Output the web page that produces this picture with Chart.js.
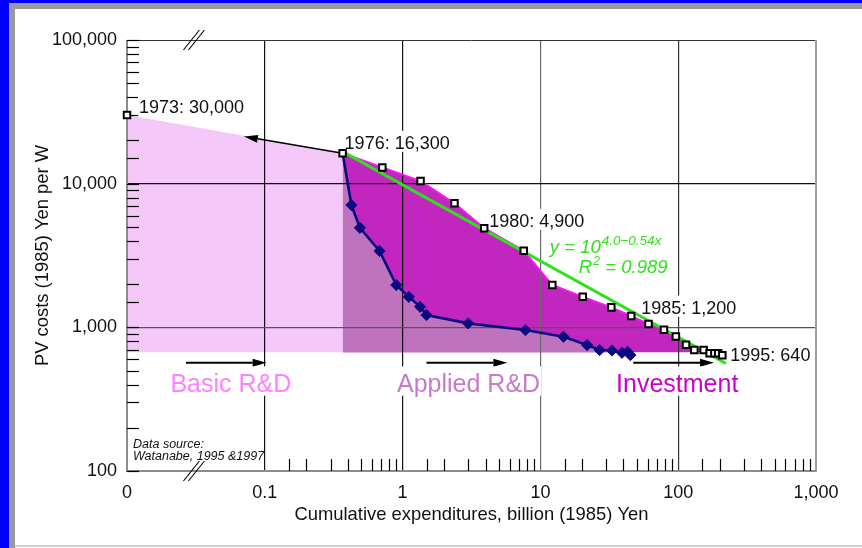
<!DOCTYPE html>
<html>
<head>
<meta charset="utf-8">
<title>PV costs vs cumulative expenditures</title>
<script src="https://cdn.jsdelivr.net/npm/chart.js@4.4.0/dist/chart.umd.min.js"></script>
<style>
  html, body { margin: 0; padding: 0; background: #fff; }
  #frame { position: relative; width: 862px; height: 548px; overflow: hidden; background: #fff; }
  .band { position: absolute; }
  #blueL { left: 0; top: 0; width: 9px; height: 548px; background: #0000ff; }
  #blueT { left: 0; top: 0; width: 862px; height: 3px; background: #0000ff; }
  #grayL { left: 9px; top: 3px; width: 6px; height: 545px; background: #9a9a9a; }
  #grayT { left: 9px; top: 3px; width: 853px; height: 6px; background: #9a9a9a; }
  #grayB { left: 15px; top: 545px; width: 847px; height: 2px; background: #cfcfcf; }
  canvas { position: absolute; left: 0; top: 0; }
</style>
</head>
<body>
<div id="frame">
  <div class="band" id="blueL"></div>
  <div class="band" id="blueT"></div>
  <div class="band" id="grayL"></div>
  <div class="band" id="grayT"></div>
  <div class="band" id="grayB"></div>
  <canvas id="chart" width="862" height="548"></canvas>
</div>
<script>
// ---- data -------------------------------------------------------------
// Total cumulative expenditures (billion 1985 Yen); 0.01 stands for the "0" end of the broken axis
const pvExpend = [0.01, 0.367, 0.713, 1.35, 2.38, 3.91, 7.57, 12.2, 20.3, 32.7, 45.6,
                  60.9, 78.8, 96.2, 114, 131, 153, 169, 183, 195, 209];
// PV module cost (1985 Yen per W)
const pvCost   = [30000, 16300, 12980, 10420, 7300, 4900, 3410, 1970, 1630, 1377, 1200,
                  1054, 962, 865, 757, 695, 695, 659, 659, 659, 640];
// R&D-only cumulative expenditures and the matching cost path
const rdExpend = [0.367, 0.425, 0.49, 0.68, 0.90, 1.11, 1.34, 1.49, 2.99, 7.79,
                  14.7, 21.8, 26.9, 33.1, 39.1, 42.9, 44.9];
const rdCost   = [16300, 7100, 4930, 3400, 1970, 1630, 1390, 1218, 1066, 957,
                  860, 753, 695, 690, 665, 675, 641];
// learning-curve fit y = 10^(4.0 - 0.54x), end points
const fitExpend = [0.367, 222];
const fitCost   = [16700, 560];
// lower edge of the shaded phases
const floorCost = 670;
// labelled years (index into pvExpend / pvCost)
const yearIdx    = [0, 1, 5, 10, 20];
const yearLabels = ['1973: 30,000', '1976: 16,300', '1980: 4,900', '1985: 1,200', '1995: 640'];
// axis tick labels
const xTickValues = [0.01, 0.1, 1, 10, 100, 1000];
const xTickLabels = ['0', '0.1', '1', '10', '100', '1,000'];
const yTickValues = [100, 1000, 10000, 100000];
const yTickLabels = ['100', '1,000', '10,000', '100,000'];
// phase names
const phaseNames = ['Basic R&D', 'Applied R&D', 'Investment'];

// ---- helpers ----------------------------------------------------------
const pts = (xs, ys) => xs.map((v, i) => ({ x: v, y: ys[i] }));
const isDecade = v => Math.abs(Math.log10(v) - Math.round(Math.log10(v))) < 1e-6;
const FONT = '"Liberation Sans", Arial, Helvetica, sans-serif';

// label placement (data anchor + pixel offset)
const yearOffsets = [[12, -2], [2, -4], [5, -1], [10, -2], [8, 6]];
const phasePlace = [
  { x: 0.0567, color: '#ff80ff' },
  { x: 3.01,   color: '#c87ac8' },
  { x: 98.4,   color: '#cc00cc' }
];
const phaseBaseline = 355;          // value on the cost axis
const arrowLevel = 567;             // value on the cost axis
const phaseArrows = [[0.0268, 0.103], [1.49, 5.76], [47.2, 182]];
const backArrow = { from: [0.367, 16300], to: [0.0705, 21300] };
const breakAt = 0.0306;
const eqAnchor = { x: 11.7, y: 3273 };

function arrow(ctx, x1, y1, x2, y2) {
  const ang = Math.atan2(y2 - y1, x2 - x1);
  const len = 14, half = 4;
  const bx = x2 - len * Math.cos(ang), by = y2 - len * Math.sin(ang);
  ctx.beginPath();
  ctx.moveTo(x1, y1);
  ctx.lineTo(bx, by);
  ctx.stroke();
  ctx.beginPath();
  ctx.moveTo(x2, y2);
  ctx.lineTo(bx + half * Math.sin(ang), by - half * Math.cos(ang));
  ctx.lineTo(bx - half * Math.sin(ang), by + half * Math.cos(ang));
  ctx.closePath();
  ctx.fill();
}

function boxedText(ctx, text, left, base, size, color, style) {
  ctx.font = (style || '') + ' ' + size + 'px ' + FONT;
  const w = ctx.measureText(text).width;
  ctx.fillStyle = '#fff';
  ctx.fillRect(left - 1, base - size * 1.02, w + 2, size * 1.17);
  ctx.fillStyle = color;
  ctx.textAlign = 'left';
  ctx.textBaseline = 'alphabetic';
  ctx.fillText(text, left, base);
  return w;
}

// frame, inward ticks, axis breaks, arrows and text
const decor = {
  id: 'decor',
  beforeDatasetsDraw(chart) {
    const { ctx, chartArea: a, scales: { x, y } } = chart;
    ctx.save();

    // frame
    ctx.lineCap = 'butt';
    ctx.strokeStyle = '#333'; ctx.lineWidth = 1;
    ctx.beginPath(); ctx.moveTo(a.left, a.top + 0.5); ctx.lineTo(a.right, a.top + 0.5); ctx.stroke();
    ctx.strokeStyle = '#a0a0a0'; ctx.lineWidth = 2;
    ctx.beginPath(); ctx.moveTo(a.right, a.top); ctx.lineTo(a.right, a.bottom + 1); ctx.stroke();
    ctx.strokeStyle = '#8c8c8c'; ctx.lineWidth = 2;
    ctx.beginPath(); ctx.moveTo(a.left, a.top); ctx.lineTo(a.left, a.bottom); ctx.lineTo(a.right, a.bottom); ctx.stroke();

    // inward ticks on the cost axis
    ctx.strokeStyle = '#000'; ctx.lineWidth = 1.2;
    y.ticks.forEach(t => {
      const py = Math.round(y.getPixelForValue(t.value)) + 0.5;
      ctx.beginPath(); ctx.moveTo(a.left, py); ctx.lineTo(a.left + 12, py); ctx.stroke();
    });
    // upward minor ticks on the expenditure axis (none in the broken stretch)
    x.ticks.forEach(t => {
      if (t.value < 0.1 - 1e-9 || isDecade(t.value)) return;
      const px = Math.round(x.getPixelForValue(t.value)) + 0.5;
      ctx.beginPath(); ctx.moveTo(px, a.bottom); ctx.lineTo(px, a.bottom - 12); ctx.stroke();
    });

    // axis break marks
    const bx = x.getPixelForValue(breakAt);
    ctx.lineWidth = 1.1;
    [a.top, a.bottom].forEach(by => {
      [-2.5, 2.5].forEach(d => {
        ctx.beginPath();
        ctx.moveTo(bx + d - 8, by + 10);
        ctx.lineTo(bx + d + 8, by - 10);
        ctx.stroke();
      });
    });

    // arrows
    ctx.fillStyle = '#000'; ctx.strokeStyle = '#000'; ctx.lineWidth = 1.6;
    arrow(ctx, x.getPixelForValue(backArrow.from[0]), y.getPixelForValue(backArrow.from[1]),
               x.getPixelForValue(backArrow.to[0]), y.getPixelForValue(backArrow.to[1]));
    ctx.lineWidth = 2.2;
    const ay = y.getPixelForValue(arrowLevel);
    phaseArrows.forEach(([x0, x1]) => arrow(ctx, x.getPixelForValue(x0), ay, x.getPixelForValue(x1), ay));

    // phase names
    const pb = y.getPixelForValue(phaseBaseline);
    ctx.font = '25px ' + FONT;
    phaseNames.forEach((name, i) => {
      const w = ctx.measureText(name).width;
      const cx = x.getPixelForValue(phasePlace[i].x);
      boxedText(ctx, name, cx - w / 2, pb, 25, phasePlace[i].color);
      ctx.font = '25px ' + FONT;
    });

    // year labels
    yearIdx.forEach((k, i) => {
      const px = x.getPixelForValue(pvExpend[k]) + yearOffsets[i][0];
      const py = y.getPixelForValue(pvCost[k]) + yearOffsets[i][1];
      boxedText(ctx, yearLabels[i], px, py, 18, '#111');
    });

    // fit equation
    const ex = x.getPixelForValue(eqAnchor.x), ey = y.getPixelForValue(eqAnchor.y);
    const green = '#2fe01a';
    ctx.fillStyle = green; ctx.textAlign = 'left'; ctx.textBaseline = 'alphabetic';
    ctx.font = 'italic 18.5px ' + FONT;
    const s1 = 'y = 10';
    ctx.fillText(s1, ex, ey);
    const w1 = ctx.measureText(s1).width;
    ctx.font = 'italic 13.5px ' + FONT;
    ctx.fillText('4.0\u22120.54x', ex + w1 + 1, ey - 8.5);
    ctx.font = 'italic 18.5px ' + FONT;
    const rx = ex + 29, ry = ey + 20;
    ctx.fillText('R', rx, ry);
    const wr = ctx.measureText('R').width;
    ctx.font = 'italic 12px ' + FONT;
    ctx.fillText('2', rx + wr + 1, ry - 8);
    ctx.font = 'italic 18.5px ' + FONT;
    ctx.fillText(' = 0.989', rx + wr + 8, ry);

    // source note
    ctx.fillStyle = '#111';
    ctx.font = 'italic 12.5px ' + FONT;
    ctx.fillText('Data source:', a.left + 6, a.bottom - 23);
    ctx.fillText('Watanabe, 1995 &1997', a.left + 6, a.bottom - 11);

    ctx.restore();
  }
};

const majorGridColor = v => {
  if (Math.abs(v - 0.1) < 1e-9 || Math.abs(v - 1) < 1e-9) return '#111';
  if (Math.abs(v - 10) < 1e-6) return '#6a6a6a';
  if (Math.abs(v - 100) < 1e-6) return '#333';
  if (Math.abs(v - 1000) < 1e-6) return '#555';
  if (Math.abs(v - 10000) < 1e-6) return '#111';
  return 'rgba(0,0,0,0)';
};

new Chart(document.getElementById('chart'), {
  type: 'line',
  data: {
    datasets: [
      { // yearly cost points
        label: 'PV cost',
        data: pts(pvExpend, pvCost),
        showLine: false,
        pointStyle: 'rect',
        pointRadius: 4.6,
        pointBackgroundColor: '#fff',
        pointBorderColor: '#000',
        pointBorderWidth: 2,
        clip: false
      },
      { // R&D path with the applied-R&D shading below it
        label: 'R&D',
        data: pts(rdExpend, rdCost),
        borderColor: '#0a0a82',
        borderWidth: 2.6,
        pointStyle: 'rectRot',
        pointRadius: c => (c.dataIndex === 0 ? 0 : 5.6),
        pointBackgroundColor: '#0a0a82',
        pointBorderColor: '#0a0a82',
        pointBorderWidth: 1,
        fill: { value: floorCost },
        backgroundColor: '#bf73bf',
        clip: false
      },
      { // learning-curve fit
        label: 'fit',
        data: pts(fitExpend, fitCost),
        borderColor: '#2fe01a',
        borderWidth: 3,
        pointRadius: 0,
        fill: false
      },
      { // investment shading under the cost curve
        label: 'investment',
        data: pts(pvExpend.slice(1), pvCost.slice(1)),
        borderColor: '#f01cf0',
        borderWidth: 2,
        pointRadius: 0,
        fill: { value: floorCost },
        backgroundColor: '#c126be'
      },
      { // basic-R&D shading
        label: 'basic',
        data: pts(pvExpend.slice(0, 2), pvCost.slice(0, 2)),
        borderColor: 'rgba(0,0,0,0)',
        borderWidth: 0,
        pointRadius: 0,
        fill: { value: floorCost },
        backgroundColor: '#f5c8fa'
      }
    ]
  },
  options: {
    responsive: false,
    animation: false,
    devicePixelRatio: 1,
    layout: { padding: { top: 40, right: 46, bottom: 0, left: 0 } },
    plugins: {
      legend: { display: false },
      tooltip: { enabled: false },
      filler: { drawTime: 'beforeDraw' }
    },
    scales: {
      x: {
        type: 'logarithmic',
        min: 0.01,
        max: 1000,
        afterFit: s => { s.height = 77; },
        border: { display: false },
        grid: { drawTicks: false, color: c => (c.tick ? majorGridColor(c.tick.value) : 'rgba(0,0,0,0)'), lineWidth: 1.2 },
        ticks: {
          autoSkip: false, maxRotation: 0, padding: 11,
          color: '#111', font: { family: FONT, size: 18 },
          callback: v => {
            const i = xTickValues.findIndex(t => Math.abs(t - v) / t < 1e-6);
            return i >= 0 ? xTickLabels[i] : '';
          }
        },
        title: {
          display: true, text: 'Cumulative expenditures, billion (1985) Yen',
          color: '#111', font: { family: FONT, size: 18.4 }, padding: { top: 0, bottom: 22 }
        }
      },
      y: {
        type: 'logarithmic',
        min: 100,
        max: 100000,
        afterFit: s => { s.width = 127; },
        border: { display: false },
        grid: { drawTicks: false, color: c => (c.tick ? majorGridColor(c.tick.value) : 'rgba(0,0,0,0)'), lineWidth: 1.2 },
        ticks: {
          autoSkip: false, padding: 10,
          color: '#111', font: { family: FONT, size: 18 },
          callback: v => {
            const i = yTickValues.findIndex(t => Math.abs(t - v) / t < 1e-6);
            return i >= 0 ? yTickLabels[i] : '';
          }
        },
        title: {
          display: true, text: 'PV costs (1985) Yen per W',
          color: '#111', font: { family: FONT, size: 18.4 }, padding: { top: 32, bottom: 0 }
        }
      }
    }
  },
  plugins: [decor]
});
</script>
</body>
</html>
